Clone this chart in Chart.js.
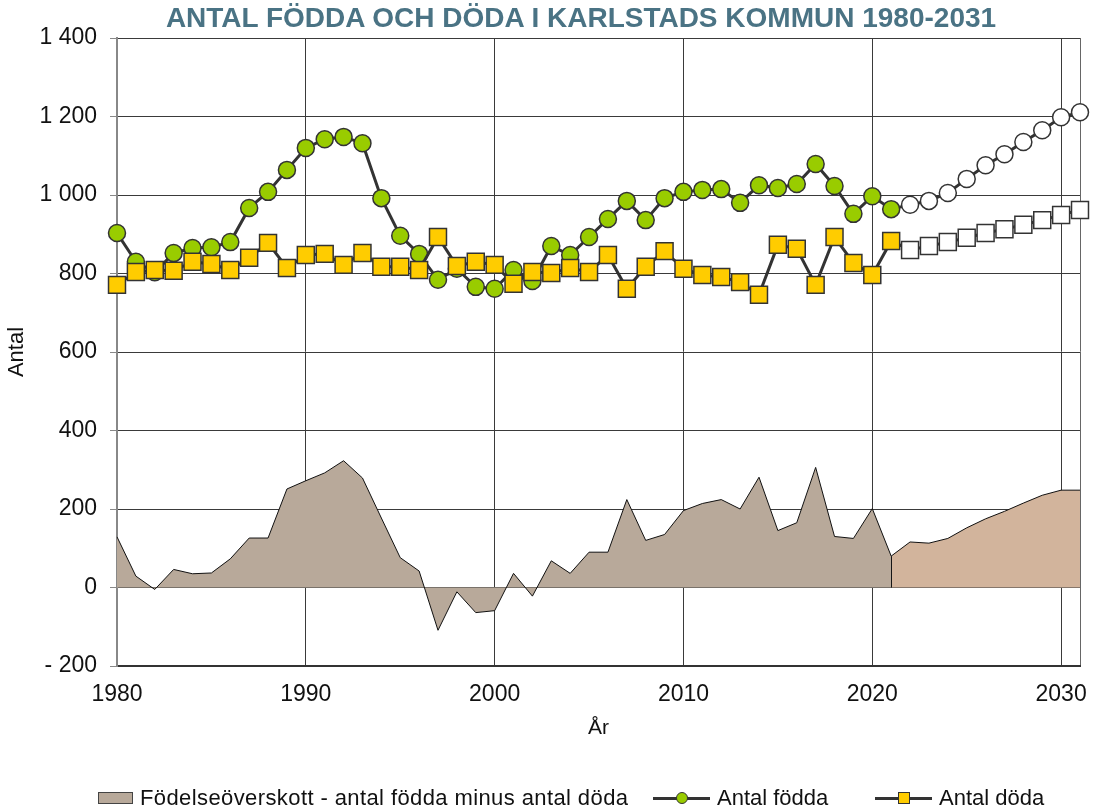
<!DOCTYPE html>
<html lang="sv">
<head>
<meta charset="utf-8">
<title>Antal födda och döda i Karlstads kommun 1980-2031</title>
<script src="https://cdn.jsdelivr.net/npm/chart.js@4/dist/chart.umd.min.js"></script>
<style>
  body { margin: 0; background: #fff; }
  #wrap { position: relative; width: 1095px; height: 811px; font-family: 'Liberation Sans', Arial, sans-serif; }
  #title { position: absolute; left: 0; width: 1162px; top: 4px; text-align: center; font-weight: bold;
           font-size: 28px; line-height: 1; color: #4a7384; }
  .leg { position: absolute; top: 787px; height: 22px; display: flex; align-items: center;
         font-size: 22px; color: #111; white-space: nowrap; }
  .box { width: 35px; height: 12px; box-sizing: border-box; background: #b8a99a; border: 1px solid #444; margin-right: 7px; }
  .mk { position: relative; width: 57px; height: 3px; background: #333; margin-right: 7px; }
  .mk span { position: absolute; left: 50%; top: 50%; width: 12px; height: 12px; box-sizing: border-box;
             transform: translate(-50%, -50%); border: 1px solid #333; }
  .mk .dot { border-radius: 50%; background: #99cc00; }
  .mk .sq { background: #ffcc00; }
</style>
</head>
<body>
<div id="wrap">
  <canvas id="cv" width="1095" height="811"></canvas>
  <div id="title">ANTAL FÖDDA OCH DÖDA I KARLSTADS KOMMUN 1980-2031</div>
  <div class="leg" style="left:98px"><div class="box"></div><span style="letter-spacing:0.4px">Födelseöverskott - antal födda minus antal döda</span></div>
  <div class="leg" style="left:653px"><div class="mk"><span class="dot"></span></div>Antal födda</div>
  <div class="leg" style="left:875px"><div class="mk"><span class="sq"></span></div>Antal döda</div>
</div>
<script>
// år 1980-2031
const years = [1980,1981,1982,1983,1984,1985,1986,1987,1988,1989,
               1990,1991,1992,1993,1994,1995,1996,1997,1998,1999,
               2000,2001,2002,2003,2004,2005,2006,2007,2008,2009,
               2010,2011,2012,2013,2014,2015,2016,2017,2018,2019,
               2020,2021,2022,2023,2024,2025,2026,2027,2028,2029,
               2030,2031];

// utfall 1980-2021
const bornHist = [903,830,803,852,865,867,880,967,1008,1064,
                  1120,1142,1148,1132,992,896,850,784,812,766,
                  761,809,781,870,847,893,939,985,936,992,
                  1008,1013,1015,980,1025,1018,1028,1079,1023,952,
                  997,964];
const deadHist = [771,804,809,807,830,824,809,840,878,814,
                  847,850,822,852,817,817,809,893,819,830,
                  822,774,804,801,814,804,847,761,817,857,
                  812,796,791,778,746,873,863,771,893,827,
                  796,883];
const surplusHist = [129,29,-5,46,35,37,73,126,126,251,
                     272,292,323,279,177,76,42,-109,-11,-64,
                     -59,36,-22,68,36,90,90,224,120,135,
                     196,214,224,200,281,145,165,306,130,125,
                     201,80];

// prognos 2022-2031
const bornProj = [975,985,1005,1041,1076,1104,1135,1165,1198,1211];
const deadProj = [860,870,880,891,903,913,924,936,949,962];
const surplusProj = [116,113,125,152,175,194,215,235,248,248];

const yTicks = [-200,0,200,400,600,800,1000,1200,1400];

const nHist = bornHist.length;
const histData = (h, p) => h.concat(p.map(() => null));
const projData = (h, p) => h.slice(0, nHist - 1).map(() => null).concat([h[nHist - 1]], p);

const fmt = v => {
  const s = String(Math.abs(v)).replace(/\B(?=(\d{3})+(?!\d))/g, ' ');
  return v < 0 ? '- ' + s : s;
};

const LINE = '#333';
const GRID = '#3a3a3a';
const hideFirst = r => c => (c.dataIndex === nHist - 1 ? 0 : r);

// lodrät kant där prognosytan börjar
const projEdge = {
  id: 'projEdge',
  afterDatasetDraw(chart, args) {
    if (args.meta.label !== 'Födelseöverskott prognos') return;
    const { ctx, scales: { x, y } } = chart;
    const px = Math.round(x.getPixelForValue(nHist - 1)) + 0.5;
    ctx.save();
    ctx.strokeStyle = '#111';
    ctx.lineWidth = 1;
    ctx.beginPath();
    ctx.moveTo(px, y.getPixelForValue(surplusHist[nHist - 1]));
    ctx.lineTo(px, y.getPixelForValue(0));
    ctx.stroke();
    ctx.restore();
  }
};

new Chart(document.getElementById('cv'), {
  type: 'line',
  plugins: [projEdge],
  data: {
    labels: years,
    datasets: [
      {
        label: 'Antal döda',
        data: histData(deadHist, deadProj),
        borderColor: LINE, borderWidth: 3, backgroundColor: '#ffcc00',
        pointStyle: 'rect', pointRadius: 12, pointBorderColor: LINE, pointBorderWidth: 1.5,
        tension: 0, fill: false, order: 0
      },
      {
        label: 'Antal döda prognos',
        data: projData(deadHist, deadProj),
        borderColor: LINE, borderWidth: 3, backgroundColor: '#fff',
        pointStyle: 'rect', pointRadius: hideFirst(12), pointBorderColor: LINE, pointBorderWidth: 1.5,
        tension: 0, fill: false, order: 1
      },
      {
        label: 'Antal födda',
        data: histData(bornHist, bornProj),
        borderColor: LINE, borderWidth: 3, backgroundColor: '#99cc00',
        pointStyle: 'circle', pointRadius: 8.5, pointBorderColor: LINE, pointBorderWidth: 1.5,
        tension: 0, fill: false, order: 2
      },
      {
        label: 'Antal födda prognos',
        data: projData(bornHist, bornProj),
        borderColor: LINE, borderWidth: 3, backgroundColor: '#fff',
        pointStyle: 'circle', pointRadius: hideFirst(8.5), pointBorderColor: LINE, pointBorderWidth: 1.5,
        tension: 0, fill: false, order: 3
      },
      {
        label: 'Födelseöverskott',
        data: histData(surplusHist, surplusProj),
        borderColor: '#111', borderWidth: 1, backgroundColor: '#b8a99a',
        pointRadius: 0, tension: 0, fill: 'origin', order: 4
      },
      {
        label: 'Födelseöverskott prognos',
        data: projData(surplusHist, surplusProj),
        borderColor: '#111', borderWidth: 1, backgroundColor: '#d2b49c',
        pointRadius: 0, tension: 0, fill: 'origin', order: 5
      }
    ]
  },
  options: {
    responsive: false,
    animation: false,
    devicePixelRatio: 1,
    layout: { padding: { top: 38, right: 8, bottom: 66, left: 0 } },
    plugins: {
      legend: { display: false },
      tooltip: { enabled: false }
    },
    scales: {
      x: {
        type: 'category',
        offset: false,
        border: { color: '#333', width: 2 },
        grid: {
          drawTicks: false,
          color: c => {
            const i = c.index;
            if (i === years.length - 1) return '#666';
            return (i > 0 && years[i] % 10 === 0) ? GRID : 'rgba(0,0,0,0)';
          }
        },
        ticks: {
          autoSkip: false, maxRotation: 0, minRotation: 0, padding: 15,
          color: '#111', font: { family: 'Liberation Sans', size: 23 },
          callback: (v, i) => (years[i] % 10 === 0 ? String(years[i]) : '')
        },
        title: {
          display: true, text: 'År', color: '#111',
          font: { family: 'Liberation Sans', size: 21 }, padding: { top: 4, bottom: 4 }
        },
        afterFit: s => { s.height = 79; }
      },
      y: {
        min: -200, max: 1400,
        border: { color: '#888', width: 2 },
        grid: { color: GRID, tickColor: '#888', tickLength: 7 },
        afterBuildTicks: s => { s.ticks = yTicks.map(v => ({ value: v })); },
        ticks: {
          padding: 13, color: '#111', font: { family: 'Liberation Sans', size: 23 },
          callback: v => fmt(v)
        },
        title: {
          display: true, text: 'Antal', color: '#111',
          font: { family: 'Liberation Sans', size: 22 }, padding: { top: 4, bottom: 4 }
        },
        afterFit: s => { s.width = 117; }
      }
    }
  }
});
</script>
</body>
</html>
